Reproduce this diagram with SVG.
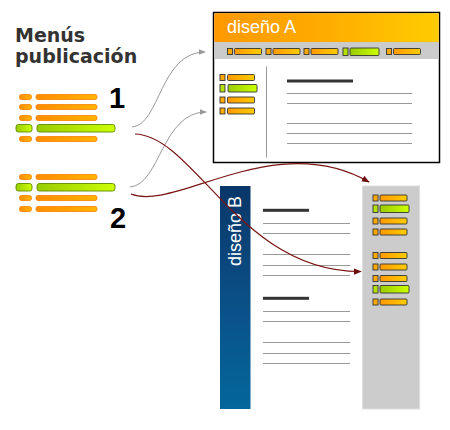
<svg xmlns="http://www.w3.org/2000/svg" width="450" height="430" viewBox="0 0 450 430">
<defs>
<linearGradient id="gOr" x1="0" y1="0" x2="1" y2="0"><stop offset="0" stop-color="#ff8c00"/><stop offset="1" stop-color="#ffb400"/></linearGradient>
<linearGradient id="gOr2" x1="0" y1="0" x2="1" y2="0"><stop offset="0" stop-color="#ff9900"/><stop offset="1" stop-color="#ffcc00"/></linearGradient>
<linearGradient id="gGr" x1="0" y1="0" x2="1" y2="0"><stop offset="0" stop-color="#99cc00"/><stop offset="1" stop-color="#ccff00"/></linearGradient>
<linearGradient id="gHead" x1="0" y1="0" x2="1" y2="0"><stop offset="0" stop-color="#ff9900"/><stop offset="0.45" stop-color="#ffaa00"/><stop offset="1" stop-color="#ffcc00"/></linearGradient>
<linearGradient id="gBlue" x1="0" y1="0" x2="0" y2="1"><stop offset="0" stop-color="#0a3668"/><stop offset="0.5" stop-color="#0a4f86"/><stop offset="1" stop-color="#04679c"/></linearGradient>
<marker id="arG" viewBox="0 0 10 10" refX="9" refY="5" markerWidth="7" markerHeight="7" orient="auto" markerUnits="userSpaceOnUse"><path d="M0,1 L10,5 L0,9 Z" fill="#999"/></marker>
<marker id="arR" viewBox="0 0 10 10" refX="9" refY="5" markerWidth="8" markerHeight="8" orient="auto" markerUnits="userSpaceOnUse"><path d="M0,1 L10,5 L0,9 Z" fill="#6e0e0e"/></marker>
<style>
.lo{fill:url(#gOr);stroke:#ff8000;stroke-width:0.8}
.lg{fill:url(#gGr);stroke:#5f8a00;stroke-width:0.9}
.dq{fill:#ffaa00;stroke:#333;stroke-width:0.9}
.db{fill:url(#gOr2);stroke:#333;stroke-width:0.9}
.dqg{fill:#b5e000;stroke:#333;stroke-width:0.9}
.dbg{fill:url(#gGr);stroke:#333;stroke-width:0.9}
.ln{stroke:#999;stroke-width:1}
.hd{fill:#333}
.ttl{font-family:"DejaVu Sans",sans-serif;font-weight:bold;font-size:19px;fill:#333}
.num{font-family:"Liberation Sans",Arial,sans-serif;font-weight:bold;font-size:29px;fill:#000}
.dz{font-family:"Liberation Sans",Arial,sans-serif;font-size:18px;fill:#fff}
.cg{fill:none;stroke:#999;stroke-width:1}
.cr{fill:none;stroke:#7a1515;stroke-width:1.2}
</style>
</defs>
<rect width="450" height="430" fill="#fff"/>

<g id="title">
<text class="ttl" x="15" y="42">Menús</text>
<text class="ttl" x="15" y="63">publicación</text>
</g>

<g id="menu1">
<rect class="lo" x="19.5" y="94.5" width="12" height="5" rx="2"/><rect class="lo" x="36" y="94.5" width="61" height="5" rx="2"/>
<rect class="lo" x="19.5" y="104.5" width="12" height="5" rx="2"/><rect class="lo" x="36" y="104.5" width="61" height="5" rx="2"/>
<rect class="lo" x="19.5" y="115.5" width="12" height="5" rx="2"/><rect class="lo" x="36" y="115.5" width="61" height="5" rx="2"/>
<rect class="lg" x="16" y="124.5" width="16" height="7.5" rx="2.5"/><rect class="lg" x="37" y="124.5" width="78" height="7.5" rx="2.5"/>
<rect class="lo" x="19.5" y="136.5" width="12" height="5" rx="2"/><rect class="lo" x="36" y="136.5" width="61" height="5" rx="2"/>
<text class="num" x="109" y="108">1</text>
</g>

<g id="menu2">
<rect class="lo" x="19.5" y="174.5" width="12" height="5" rx="2"/><rect class="lo" x="36" y="174.5" width="61" height="5" rx="2"/>
<rect class="lg" x="16" y="183.5" width="16" height="7.5" rx="2.5"/><rect class="lg" x="37" y="183.5" width="78" height="7.5" rx="2.5"/>
<rect class="lo" x="19.5" y="195.5" width="12" height="5" rx="2"/><rect class="lo" x="36" y="195.5" width="61" height="5" rx="2"/>
<rect class="lo" x="19.5" y="206.5" width="12" height="5" rx="2"/><rect class="lo" x="36" y="206.5" width="61" height="5" rx="2"/>
<text class="num" x="110" y="228">2</text>
</g>

<g id="disenoA">
<rect x="213.5" y="12.5" width="226" height="150" fill="#fff" stroke="#000" stroke-width="1.5"/>
<rect x="214.25" y="13.25" width="224.5" height="29" fill="url(#gHead)"/>
<rect x="214.25" y="42" width="224.5" height="17" fill="#cbcbcb"/>
<text class="dz" x="227" y="33">diseño A</text>
<g id="A-top">
<rect class="dq" x="227.5" y="48.5" width="5" height="6"/><rect class="db" x="234.5" y="48.5" width="27" height="6" rx="1"/>
<rect class="dq" x="266" y="48.5" width="5" height="6"/><rect class="db" x="273" y="48.5" width="27" height="6" rx="1"/>
<rect class="dq" x="304" y="48.5" width="5" height="6"/><rect class="db" x="311" y="48.5" width="27" height="6" rx="1"/>
<rect class="dqg" x="343" y="48" width="5" height="7.5"/><rect class="dbg" x="350" y="48" width="29" height="7.5" rx="1"/>
<rect class="dq" x="386.5" y="48.5" width="5" height="6"/><rect class="db" x="393.5" y="48.5" width="27" height="6" rx="1"/>
</g>
<g id="A-side">
<rect class="dq" x="220" y="74.5" width="5" height="6"/><rect class="db" x="227.5" y="74.5" width="27" height="6" rx="1"/>
<rect class="dqg" x="220" y="84.5" width="5" height="7.5"/><rect class="dbg" x="228" y="84.5" width="29" height="7.5" rx="1"/>
<rect class="dq" x="220" y="97" width="5" height="6"/><rect class="db" x="227.5" y="97" width="27" height="6" rx="1"/>
<rect class="dq" x="220" y="108" width="5" height="6"/><rect class="db" x="227.5" y="108" width="27" height="6" rx="1"/>
</g>
<line class="ln" x1="266.5" y1="66.5" x2="266.5" y2="157.5"/>
<rect class="hd" x="287" y="79.5" width="66" height="3"/>
<line class="ln" x1="287" y1="93.5" x2="412" y2="93.5"/>
<line class="ln" x1="287" y1="103.5" x2="412" y2="103.5"/>
<line class="ln" x1="287" y1="123.5" x2="412" y2="123.5"/>
<line class="ln" x1="287" y1="133.5" x2="412" y2="133.5"/>
<line class="ln" x1="287" y1="143.5" x2="412" y2="143.5"/>
</g>

<g id="disenoB">
<rect x="220" y="186" width="30.5" height="223" fill="url(#gBlue)"/>
<text class="dz" transform="translate(241,266) rotate(-90)">diseño B</text>
<rect class="hd" x="263" y="208.8" width="46" height="3"/>
<line class="ln" x1="263" y1="223.5" x2="350" y2="223.5"/>
<line class="ln" x1="263" y1="233.5" x2="350" y2="233.5"/>
<line class="ln" x1="263" y1="254.5" x2="350" y2="254.5"/>
<line class="ln" x1="263" y1="265.5" x2="350" y2="265.5"/>
<line class="ln" x1="263" y1="275.5" x2="350" y2="275.5"/>
<rect class="hd" x="263" y="296.8" width="46" height="3"/>
<line class="ln" x1="263" y1="311.5" x2="350" y2="311.5"/>
<line class="ln" x1="263" y1="321.5" x2="350" y2="321.5"/>
<line class="ln" x1="263" y1="342.5" x2="350" y2="342.5"/>
<line class="ln" x1="263" y1="353.5" x2="350" y2="353.5"/>
<line class="ln" x1="263" y1="363.5" x2="350" y2="363.5"/>
<rect x="362.5" y="186" width="57" height="223" fill="#cccccc" stroke="#dedede" stroke-width="1"/>
<g id="B-side">
<rect class="dq" x="373" y="195" width="5" height="6"/><rect class="db" x="380" y="195" width="27" height="6" rx="1"/>
<rect class="dqg" x="373" y="205" width="5" height="7.5"/><rect class="dbg" x="380" y="205" width="29" height="7.5" rx="1"/>
<rect class="dq" x="373" y="218" width="5" height="6"/><rect class="db" x="380" y="218" width="27" height="6" rx="1"/>
<rect class="dq" x="373" y="229" width="5" height="6"/><rect class="db" x="380" y="229" width="27" height="6" rx="1"/>
<rect class="dq" x="373" y="252.5" width="5" height="6"/><rect class="db" x="380" y="252.5" width="27" height="6" rx="1"/>
<rect class="dq" x="373" y="264" width="5" height="6"/><rect class="db" x="380" y="264" width="27" height="6" rx="1"/>
<rect class="dq" x="373" y="275.5" width="5" height="6"/><rect class="db" x="380" y="275.5" width="27" height="6" rx="1"/>
<rect class="dqg" x="373" y="285.5" width="5" height="7.5"/><rect class="dbg" x="380" y="285.5" width="29" height="7.5" rx="1"/>
<rect class="dq" x="373" y="299" width="5" height="6"/><rect class="db" x="380" y="299" width="27" height="6" rx="1"/>
</g>
</g>

<g id="connectors">
<path class="cg" d="M132,127 C160,125 160,52 205,52" marker-end="url(#arG)"/>
<path class="cg" d="M130,187 C160,185 162,112 206,112" marker-end="url(#arG)"/>
<path class="cr" d="M135,134 C195,136 240,272 361,271.5" marker-end="url(#arR)"/>
<path class="cr" d="M131,194 C175,212 275,128 369,182" marker-end="url(#arR)"/>
</g>
</svg>
